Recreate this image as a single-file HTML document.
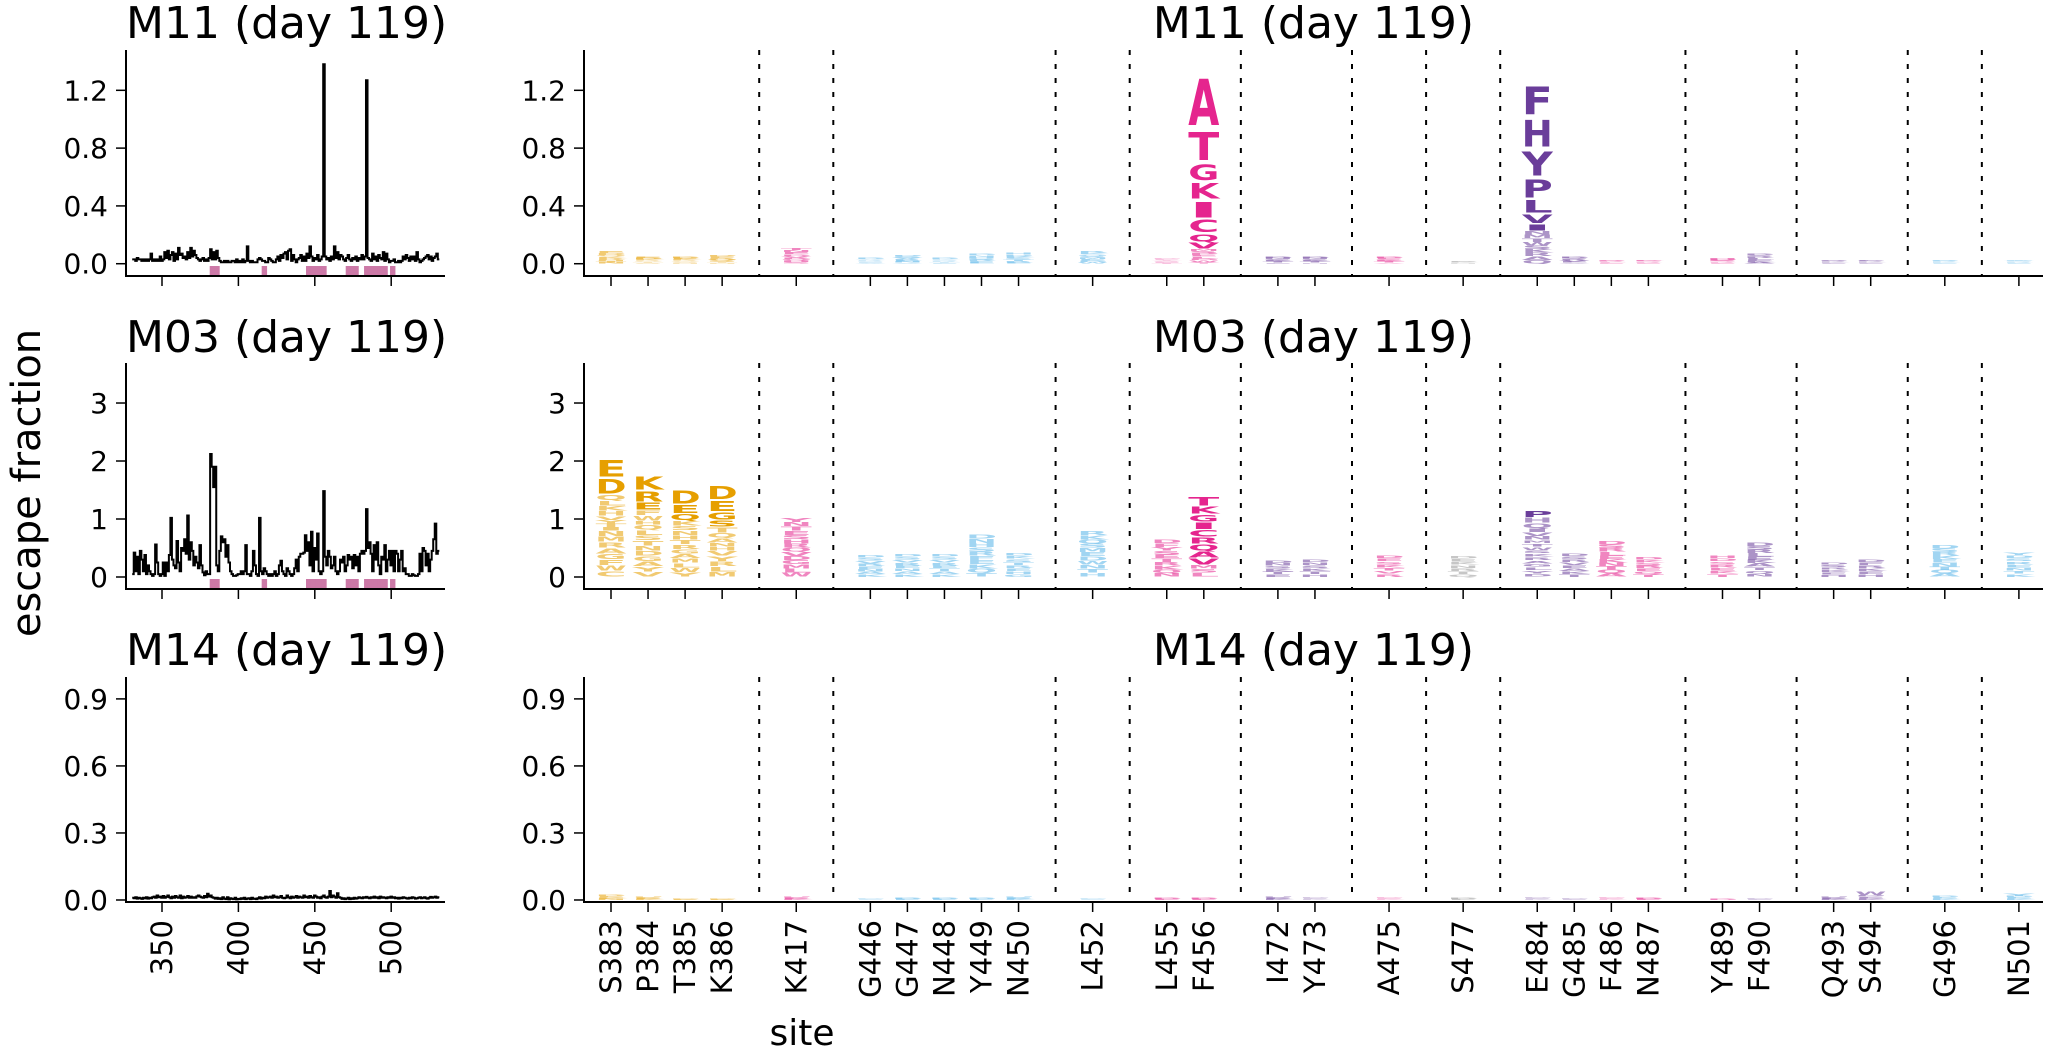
<!DOCTYPE html>
<html><head><meta charset="utf-8">
<style>
html,body{margin:0;padding:0;background:#fff;}
svg{display:block;}
text{font-family:"DejaVu Sans","Liberation Sans",sans-serif;}
</style></head>
<body>
<svg id="fig" width="2046" height="1059" viewBox="0 0 2046 1059" xmlns="http://www.w3.org/2000/svg">
<text transform="translate(40,483) rotate(-90)" text-anchor="middle" font-size="40">escape fraction</text>
<text x="802" y="1045" text-anchor="middle" font-size="36">site</text>
</svg>
<script>
// ---------- data ----------
const rowNames = ["M11 (day 119)", "M03 (day 119)", "M14 (day 119)"];
const siteStart = 331, siteEnd = 531;
const m11Line = [.03,.03,.02,.04,.03,.03,.02,.03,.02,.03,
.02,.03,.07,.02,.03,.02,.03,.02,.05,.02,
.03,.08,.04,.09,.03,.06,.08,.02,.07,.03,
.11,.06,.07,.04,.05,.03,.08,.04,.11,.05,
.09,.06,.04,.03,.02,.03,.04,.02,.03,.02,
.04,.10,.03,.08,.03,.09,.04,.02,.01,.01,
.02,.01,.02,.01,.01,.02,.02,.01,.03,.01,
.02,.01,.03,.01,.02,.12,.02,.01,.02,.01,
.01,.01,.03,.04,.03,.02,.02,.01,.01,.04,
.03,.02,.01,.01,.03,.05,.02,.06,.04,.07,
.08,.03,.09,.1,.02,.06,.03,.01,.03,.04,
.06,.02,.05,.02,.07,.04,.12,.05,.02,.04,
.03,.06,.02,.03,.05,1.38,.05,.03,.04,.02,
.05,.03,.12,.04,.08,.03,.06,.05,.03,.02,
.04,.06,.03,.02,.04,.03,.05,.02,.04,.03,
.06,.03,.05,1.27,.04,.03,.02,.07,.03,.05,
.02,.06,.04,.03,.08,.02,.07,.03,.01,.02,
.02,.03,.01,.01,.02,.01,.02,.05,.03,.06,
.04,.02,.05,.03,.05,.02,.08,.03,.01,.02,
.03,.04,.05,.06,.03,.05,.02,.04,.05,.07,.03];
const m03Line = [.05,.42,.1,.35,.05, .45,.3,.1,.38,.05, .2,.1,.05,.02,.05, .56,.25,.05,.02,.05,
.25,.02,.25,.1,.38, 1.02,.3,.2,.15,.62, .25,.1,.5,.45,.65, .4,1.06,.3,.6,.45,
.2,.35,.25,.15,.55, .2,.08,.03,.1,.05, .05,2.12,1.9,1.55,1.9, .2,.1,.45,.7,.6,
.65,.35,.55,.25,.1, .05,.02,.02,.03,.05, .05,.1,.05,.1,.55, .05,.05,.02,.1,.45,
.2,.05,.02,1.02,.1, .05,.15,.1,.05,.02,
.05,.02,.05,.1,.02, .05,.2,.28,.1,.05, .02,.15,.1,.05,.02, .05,.15,.3,.1,.35,
.4,.4,.42,.72,.45, .6,.2,.78,.1,.5, .3,.75,.1,.05,.1, 1.48,.35,.2,.45,.35,
.15,.2,.35,.1,.05, .1,.3,.25,.35,.1, .2,.38,.3,.35,.15, .38,.2,.35,.1,.4,
.45,.4,.45,1.17,.5, .6,.4,.1,.55,.3, .6,.2,.05,.35,.3, .55,.1,.3,.45,.2,
.45,.1,.45,.4,.1, .3,.45,.1,.15,.05, .05,.02,.02,.05,.03, .02,.02,.05,.4,.1,
.5,.45,.2,.4,.1, .3,.45,.65,.92,.4,.45];
const m14Line = [.01,.008,.012,.006,.01,.008,.005,.01,.007,.012,
.006,.01,.008,.012,.015,.01,.02,.012,.015,.01,
.018,.01,.014,.02,.012,.008,.015,.01,.018,.012,
.01,.02,.008,.015,.01,.012,.018,.01,.015,.01,
.012,.01,.016,.02,.015,.012,.01,.018,.012,.028,
.015,.02,.012,.01,.006,.01,.005,.008,.004,.012,
.006,.004,.012,.003,.008,.005,.004,.01,.003,.005,
.004,.008,.005,.01,.004,.006,.008,.004,.01,.005,
.006,.004,.008,.012,.006,.01,.008,.015,.01,.012,
.015,.01,.02,.012,.015,.01,.012,.018,.01,.008,
.01,.02,.012,.008,.015,.01,.012,.018,.01,.015,
.012,.01,.02,.012,.015,.01,.018,.012,.01,.02,
.015,.01,.012,.008,.015,.02,.012,.01,.015,.04,
.012,.02,.015,.01,.03,.012,.01,.005,.008,.004,
.006,.01,.004,.008,.005,.01,.006,.008,.012,.01,
.008,.012,.01,.014,.01,.008,.012,.01,.015,.01,
.012,.008,.015,.01,.012,.01,.008,.012,.01,.015,
.01,.012,.008,.01,.006,.01,.008,.012,.01,.008,
.006,.01,.008,.012,.01,.006,.008,.01,.012,.008,
.01,.012,.008,.006,.01,.014,.01,.012,.015,.01,.012];
const zoomSites = ["S383","P384","T385","K386","|","K417","|","G446","G447","N448","Y449","N450","|","L452","|","L455","F456","|","I472","Y473","|","A475","|","S477","|","E484","G485","F486","N487","|","Y489","F490","|","Q493","S494","|","G496","|","N501"];
const siteGroup = {S383:"o",P384:"o",T385:"o",K386:"o",K417:"p",G446:"c",G447:"c",N448:"c",Y449:"c",N450:"c",L452:"c",L455:"p",F456:"p",I472:"v",Y473:"v",A475:"p",S477:"g",E484:"v",G485:"v",F486:"p",N487:"p",Y489:"p",F490:"v",Q493:"v",S494:"v",G496:"c",N501:"c"};
const m11Letters = {
S383:"EDQKRHTN",P384:"EDKRQTS",T385:"DEKRQSN",K386:"DERQSTN",K417:"TNEDVRQHS",
G446:"DVRSEA",G447:"DSVRENA",N448:"DKSRTE",Y449:"DNHSRFE",N450:"HDKSTRE",L452:"RKQSMEDW",
L455:"DFYSET",F456:"ATGKICQVMSPELDWY",I472:"DNSKTE",Y473:"DNSKTH",A475:"DESKTV",S477:"DEKN",
E484:"FHYPLVINMTWSKRAQ",G485:"DSRVEA",F486:"DSRLE",N487:"DKSRE",Y489:"HDSRE",F490:"DSRLEKA",
Q493:"DSRKE",S494:"DFRKE",G496:"DSRKE",N501:"YDSRE"};
const m11Heights = {
S383:[.016,.014,.012,.012,.01,.01,.008,.008],P384:[.01,.008,.008,.007,.006,.006,.005],
T385:[.01,.008,.008,.007,.006,.006,.005],K386:[.012,.01,.009,.008,.008,.007,.006],
K417:[.016,.014,.014,.012,.012,.012,.01,.01,.01],G446:[.008,.007,.007,.006,.006,.006],
G447:[.01,.01,.009,.008,.008,.008,.007],N448:[.008,.007,.007,.006,.006,.006],
Y449:[.012,.012,.01,.01,.009,.009,.008],N450:[.016,.012,.012,.01,.01,.009,.009],
L452:[.012,.012,.012,.011,.011,.011,.01,.01],L455:[.007,.007,.007,.006,.006,.006],
F456:[.38,.23,.13,.13,.13,.1,.06,.05,.014,.013,.013,.012,.012,.012,.012,.012],
I472:[.01,.009,.008,.008,.008,.007],Y473:[.01,.009,.008,.008,.008,.007],A475:[.01,.009,.008,.008,.008,.007],
S477:[.005,.005,.005,.005],
E484:[.23,.22,.2,.15,.1,.07,.05,.025,.025,.025,.025,.025,.025,.025,.025,.025],
G485:[.01,.009,.008,.008,.008,.007],F486:[.007,.006,.006,.006,.005],N487:[.007,.006,.006,.006,.005],
Y489:[.01,.008,.008,.007,.007],F490:[.012,.01,.01,.01,.01,.009,.009],Q493:[.007,.006,.006,.006,.005],
S494:[.007,.006,.006,.006,.005],G496:[.007,.006,.006,.006,.005],N501:[.007,.006,.006,.006,.005]};
const m03Letters = {
S383:"EDQLKHVYTINMRAGFWC",P384:"KREFWHQLSTNDGAYV",T385:"DEQKSNHTRGAMLWY",K386:"DEGSTQANHVYRLM",
K417:"YNTESHRQVDGMLW",G446:"DSVRENAK",G447:"DSVRENAK",N448:"DSVRETAK",Y449:"DNHSRFEKQT",
N450:"DKSTREHG",L452:"RKQSMEDWNTH",L455:"DFYSETRKQN",F456:"TKGICRQAVMSL",I472:"DNSKTE",
Y473:"DNSKTH",A475:"DESKTVR",S477:"DEKNRTQ",E484:"PHQIVNMTWSKRAGLYD",G485:"DSRVEAKT",
F486:"DSRLEKNTQA",N487:"DKSREQT",Y489:"HDSREKT",F490:"DSRLEKATQN",Q493:"DSRKEH",
S494:"DFRKEH",G496:"DSRKENTQA",N501:"YDSRENTK"};
const m03Heights = {
S383:[.33,.29,.1,.09,.09,.09,.07,.06,.06,.06,.1,.1,.1,.1,.1,.1,.1,.1],
P384:[.27,.2,.14,.09,.09,.07,.09,.09,.09,.09,.09,.09,.09,.09,.09,.09],
T385:[.27,.16,.12,.09,.08,.08,.08,.08,.08,.08,.08,.08,.08,.08,.08],
K386:[.27,.2,.14,.12,.1,.09,.08,.07,.07,.09,.09,.09,.09,.09],
K417:[.08,.075,.075,.073,.073,.073,.072,.072,.072,.072,.072,.072,.072,.072],
G446:[.05,.05,.048,.047,.047,.046,.046,.046],G447:[.052,.05,.05,.05,.05,.05,.049,.049],
N448:[.052,.05,.05,.05,.05,.05,.049,.049],Y449:[.08,.076,.075,.074,.074,.073,.073,.072,.072,.071],
N450:[.055,.053,.053,.052,.052,.052,.051,.051],L452:[.075,.073,.072,.072,.072,.072,.072,.071,.071,.071,.07],
L455:[.068,.066,.065,.065,.065,.065,.064,.064,.064,.064],
F456:[.17,.14,.13,.13,.13,.12,.12,.12,.12,.07,.07,.07],
I472:[.05,.049,.048,.048,.048,.047],Y473:[.054,.052,.052,.051,.051,.05],
A475:[.056,.055,.054,.054,.054,.054,.053],S477:[.055,.054,.053,.053,.052,.052,.051],
E484:[.12,.1,.09,.07,.07,.06,.058,.058,.058,.058,.058,.058,.058,.058,.058,.058,.058],
G485:[.053,.052,.051,.051,.051,.051,.05,.05],F486:[.064,.063,.062,.062,.062,.062,.062,.061,.061,.061],
N487:[.052,.051,.05,.05,.05,.049,.048],Y489:[.056,.055,.054,.054,.054,.054,.053],
F490:[.061,.06,.059,.059,.059,.059,.059,.058,.058,.058],Q493:[.045,.044,.043,.043,.043,.042],
S494:[.054,.053,.052,.051,.05,.05],G496:[.063,.062,.061,.061,.061,.061,.06,.06,.06],
N501:[.056,.055,.054,.054,.054,.054,.053,.053]};
const m14Letters = {
S383:"DEKN",P384:"DEK",T385:"DEK",K386:"DEK",K417:"DEK",G446:"DE",G447:"DE",N448:"DE",Y449:"DE",
N450:"DEK",L452:"DE",L455:"DE",F456:"DE",I472:"DEK",Y473:"DEK",A475:"DEK",S477:"DE",E484:"DEK",
G485:"DE",F486:"DEK",N487:"DE",Y489:"D",F490:"DE",Q493:"DEK",S494:"WDEK",G496:"DEK",N501:"YDEK"};
const m14Heights = {
S383:[.008,.006,.006,.005],P384:[.005,.005,.005],T385:[.004,.003,.003],K386:[.004,.003,.003],
K417:[.005,.005,.005],G446:[.004,.004],G447:[.005,.005],N448:[.005,.005],Y449:[.005,.005],
N450:[.005,.005,.005],L452:[.004,.004],L455:[.005,.005],F456:[.005,.005],I472:[.005,.005,.005],
Y473:[.004,.004,.004],A475:[.004,.004,.004],S477:[.005,.005],E484:[.004,.004,.004],G485:[.004,.004],
F486:[.004,.004,.004],N487:[.005,.005],Y489:[.005],F490:[.004,.004],Q493:[.005,.005,.005],
S494:[.018,.008,.007,.007],G496:[.006,.006,.006],N501:[.012,.006,.006,.006]};
const lineData = [m11Line, m03Line, m14Line];
const logoLetters = [m11Letters, m03Letters, m14Letters];
const logoHeights = [m11Heights, m03Heights, m14Heights];
const yTicks = [[0,0.4,0.8,1.2],[0,1,2,3],[0,0.3,0.6,0.9]];
const yTickDigits = [1,0,1];
const xTicksLeft = [350,400,450,500];
const highlightSites = [383,384,385,386,417,446,447,448,449,450,452,455,456,472,473,475,477,484,485,486,487,489,490,493,494,496,501];

// ---------- layout ----------
const NS = "http://www.w3.org/2000/svg";
const svg = document.getElementById("fig");
const rowsLayout = [{top:50,bottom:276,ymin:-0.085,ymax:1.479,titleY:38},
                    {top:363,bottom:589,ymin:-0.207,ymax:3.69,titleY:352},
                    {top:677,bottom:902,ymin:-0.009,ymax:0.998,titleY:665}];
const colors = {o:"#E69F00",p:"#E5258E",c:"#56B4E9",v:"#6A3D9A",g:"#999999"};
function mk(tag, attrs, parent){ const e=document.createElementNS(NS,tag); for(const k in attrs) e.setAttribute(k,attrs[k]); (parent||svg).appendChild(e); return e; }
const L = {x0:126, x1:445};
const R = {x0:584, x1:2043};
function xLeft(s){ return 162 + (s-350)*1.528; }
function xRight(i){ return 611 + i*37.05; }

rowsLayout.forEach((r,ri)=>{
  const y = v => r.bottom - (v - r.ymin)/(r.ymax - r.ymin)*(r.bottom - r.top);
  const gL = mk("g",{});
  
  
  const t1 = mk("text",{x:L.x0,y:r.titleY,"font-size":44},gL); t1.textContent=rowNames[ri];
  
  
  if(ri<2){
    highlightSites.forEach(s=>{
      const b = mk("rect",{x:xLeft(s)-2.7,y:r.bottom-10,width:5.4,height:10,fill:"#CC79A7"},gL);
      
      
    });
  }
  let pts=[];
  lineData[ri].forEach((v,k)=>{ const s=siteStart+k; pts.push((xLeft(s)-0.764).toFixed(2)+","+y(v).toFixed(2)); pts.push((xLeft(s)+0.764).toFixed(2)+","+y(v).toFixed(2)); });
  const pl = mk("polyline",{points:pts.join(" "),fill:"none",stroke:"#000","stroke-width":2,"stroke-linejoin":"miter"},gL);
  
  
  mk("line",{x1:L.x0,y1:r.top,x2:L.x0,y2:r.bottom+1,stroke:"#000","stroke-width":2},gL);
  mk("line",{x1:L.x0-1,y1:r.bottom,x2:L.x1,y2:r.bottom,stroke:"#000","stroke-width":2},gL);
  yTicks[ri].forEach(v=>{
    mk("line",{x1:L.x0-10,y1:y(v),x2:L.x0,y2:y(v),stroke:"#000","stroke-width":1.5},gL);
    const tl=mk("text",{x:L.x0-18,y:y(v)+10,"text-anchor":"end","font-size":28},gL); tl.textContent=v.toFixed(yTickDigits[ri]);
    
    
  });
  xTicksLeft.forEach(s=>{
    mk("line",{x1:xLeft(s),y1:r.bottom,x2:xLeft(s),y2:r.bottom+10,stroke:"#000","stroke-width":1.5},gL);
    if(ri===2){
      const tl=mk("text",{transform:`translate(${xLeft(s)+10},920) rotate(-90)`,"text-anchor":"end","font-size":29},gL); tl.textContent=s;
      
      
    }
  });

  const gR = mk("g",{});
  
  
  const t2 = mk("text",{x:(R.x0+R.x1)/2,y:r.titleY,"font-size":44,"text-anchor":"middle"},gR); t2.textContent=rowNames[ri];
  
  
  zoomSites.forEach((s,i)=>{
    const xc = xRight(i);
    if(s==="|"){
      const d=mk("line",{x1:xc,y1:r.top,x2:xc,y2:r.bottom,stroke:"#000","stroke-width":2,"stroke-dasharray":"5 9"},gR);
      
      
      return;
    }
    mk("line",{x1:xc,y1:r.bottom,x2:xc,y2:r.bottom+10,stroke:"#000","stroke-width":1.5},gR);
    if(ri===2){
      const tl=mk("text",{transform:`translate(${xc+10},920) rotate(-90)`,"text-anchor":"end","font-size":29},gR); tl.textContent=s;
      
      
    }
    const letters = logoLetters[ri][s], hs = logoHeights[ri][s];
    const col = colors[siteGroup[s]];
    let base = 0;
    for(let k=letters.length-1;k>=0;k--){
      const h = hs[k];
      const yb0 = y(base), yt0 = y(base+h);
      const ph0 = yb0-yt0;
      const ph = ph0*0.84;
      const yb = yb0 - ph0*0.08;
      const g = mk("text",{x:0,y:0,"font-size":100,"font-weight":"bold",fill:col,textLength:70,lengthAdjust:"spacingAndGlyphs",
        transform:`translate(${(xc-15.5).toFixed(2)},${yb.toFixed(2)}) scale(${(31/70).toFixed(4)},${(ph/73).toFixed(4)})`,
        opacity: ph0<6 ? 0.55 : 1},gR);
      g.textContent = letters[k];
      
      
      base += h;
    }
  });
  mk("line",{x1:R.x0,y1:r.top,x2:R.x0,y2:r.bottom+1,stroke:"#000","stroke-width":2},gR);
  mk("line",{x1:R.x0-1,y1:r.bottom,x2:R.x1,y2:r.bottom,stroke:"#000","stroke-width":2},gR);
  yTicks[ri].forEach(v=>{
    mk("line",{x1:R.x0-10,y1:y(v),x2:R.x0,y2:y(v),stroke:"#000","stroke-width":1.5},gR);
    const tl=mk("text",{x:R.x0-18,y:y(v)+10,"text-anchor":"end","font-size":28},gR); tl.textContent=v.toFixed(yTickDigits[ri]);
    
    
  });
});
</script>
</body></html>
